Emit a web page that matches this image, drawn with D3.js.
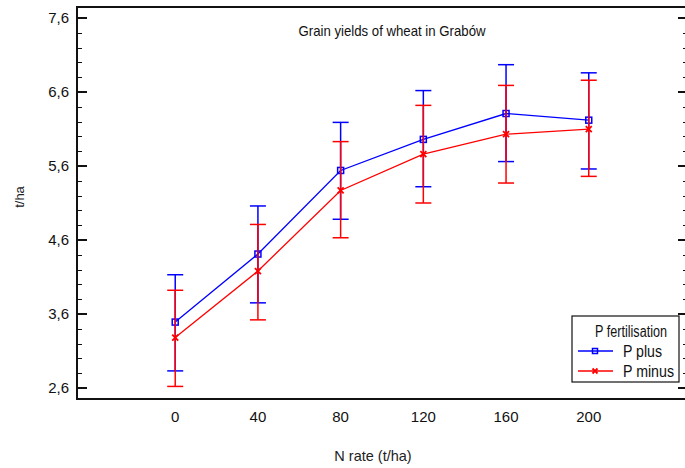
<!DOCTYPE html>
<html lang="en">
  <head>
    <meta charset="utf-8">
    <title>Grain yields of wheat in Grabów</title>
    <script src="https://d3js.org/d3.v7.min.js"></script>
    <style>
      body {
        margin: 0;
        background: #fff;
        font-family: "Liberation Sans", Arial, sans-serif;
      }
      .tick-label { font-size: 15px; fill: #111; }
    </style>
  </head>
  <body>
    <div id="chart"></div>
    <script>

    // data ****************************
    let nRates = [0, 40, 80, 120, 160, 200]

    // P plus (blue)
    let plusMean  = [3.49, 4.41, 5.54, 5.96, 6.31, 6.22]
    let plusLow   = [2.83, 3.75, 4.88, 5.32, 5.66, 5.56]
    let plusHigh  = [4.13, 5.06, 6.19, 6.62, 6.97, 6.86]

    // P minus (red)
    let minusMean = [3.28, 4.18, 5.27, 5.76, 6.03, 6.10]
    let minusLow  = [2.62, 3.52, 4.63, 5.10, 5.37, 5.46]
    let minusHigh = [3.92, 4.81, 5.93, 6.42, 6.69, 6.76]

    let yTicks = [2.6, 3.6, 4.6, 5.6, 6.6, 7.6]
    let seriesNames = ["P plus", "P minus"]

    // settings ****************************
    let width = 685, height = 468
    let mLeft = 77, mRight = 688, mTop = 7, mBottom = 399

    let x = d3.scaleLinear().domain([-47.5, 248]).range([mLeft, mRight])
    let y = d3.scaleLinear().domain([2.45, 7.75]).range([mBottom, mTop])

    let svg = d3.select("#chart").append("svg")
      .attr("width", width)
      .attr("height", height)

    // frame
    svg.append("rect")
      .attr("x", mLeft).attr("y", mTop)
      .attr("width", mRight - mLeft).attr("height", mBottom - mTop)
      .attr("fill", "none")
      .attr("stroke", "#111")
      .attr("stroke-width", 2)

    // y ticks, left (inward) and right (inward)
    let minor = d3.range(2.6, 7.61, 0.2)
    svg.selectAll(".minor-l").data(minor).join("line")
      .attr("x1", mLeft).attr("x2", mLeft + 5)
      .attr("y1", d => Math.round(y(d)) + 0.5).attr("y2", d => Math.round(y(d)) + 0.5)
      .attr("stroke", "#111")
    svg.selectAll(".minor-r").data(minor).join("line")
      .attr("x1", mRight - 5).attr("x2", mRight)
      .attr("y1", d => Math.round(y(d)) + 0.5).attr("y2", d => Math.round(y(d)) + 0.5)
      .attr("stroke", "#111")
    svg.selectAll(".major-l").data(yTicks).join("line")
      .attr("x1", mLeft).attr("x2", mLeft + 10)
      .attr("y1", d => Math.round(y(d))).attr("y2", d => Math.round(y(d)))
      .attr("stroke", "#111").attr("stroke-width", 2)
    svg.selectAll(".major-r").data(yTicks).join("line")
      .attr("x1", mRight - 10).attr("x2", mRight)
      .attr("y1", d => Math.round(y(d))).attr("y2", d => Math.round(y(d)))
      .attr("stroke", "#111").attr("stroke-width", 2)

    let fmt = d3.format(".1f")
    svg.selectAll(".ylab").data(yTicks).join("text")
      .attr("class", "tick-label")
      .attr("x", 69)
      .attr("y", d => y(d) + 5)
      .attr("text-anchor", "end")
      .text(d => fmt(d).replace(".", ","))

    svg.selectAll(".xlab").data(nRates).join("text")
      .attr("class", "tick-label")
      .attr("x", d => x(d))
      .attr("y", 422)
      .attr("text-anchor", "middle")
      .text(d => d)

    // axis titles
    svg.append("text")
      .attr("x", 373).attr("y", 461)
      .attr("text-anchor", "middle")
      .style("font-size", "14.5px").style("fill", "#222")
      .text("N rate (t/ha)")

    svg.append("text")
      .attr("transform", "translate(24,197) rotate(-90)")
      .attr("text-anchor", "middle")
      .style("font-size", "13px").style("fill", "#222")
      .text("t/ha")

    svg.append("text")
      .attr("x", 392).attr("y", 36)
      .attr("text-anchor", "middle")
      .attr("textLength", 187).attr("lengthAdjust", "spacingAndGlyphs")
      .style("font-size", "15px").style("fill", "#111")
      .text("Grain yields of wheat in Grabów")

    // series
    let series = [
      {name: seriesNames[0], color: "#0000ff", mean: plusMean, low: plusLow, high: plusHigh, marker: "square"},
      {name: seriesNames[1], color: "#ff0000", mean: minusMean, low: minusLow, high: minusHigh, marker: "cross"}
    ]

    let line = d3.line().x(d => x(d[0])).y(d => y(d[1]))

    function drawMarker(g, cx, cy, type, color, r) {
      if (type == "square") {
        g.append("rect")
          .attr("x", cx - r).attr("y", cy - r)
          .attr("width", 2 * r).attr("height", 2 * r)
          .attr("fill", "none").attr("stroke", color).attr("stroke-width", 1.5)
      } else {
        g.append("path")
          .attr("d", `M${cx-r},${cy-r}L${cx+r},${cy+r}M${cx-r},${cy+r}L${cx+r},${cy-r}`)
          .attr("stroke", color).attr("stroke-width", 1.8)
      }
    }

    series.forEach(s => {
      let g = svg.append("g")
      let pts = nRates.map((n, i) => [n, s.mean[i]])
      g.append("path")
        .attr("d", line(pts))
        .attr("fill", "none")
        .attr("stroke", s.color)
        .attr("stroke-width", 1.3)

      nRates.forEach((n, i) => {
        let cx = x(n)
        g.append("line")
          .attr("x1", cx).attr("x2", cx)
          .attr("y1", y(s.low[i])).attr("y2", y(s.high[i]))
          .attr("stroke", s.color).attr("stroke-width", 1.5)
        ;[s.low[i], s.high[i]].forEach(v => {
          g.append("line")
            .attr("x1", cx - 8).attr("x2", cx + 8)
            .attr("y1", y(v)).attr("y2", y(v))
            .attr("stroke", s.color).attr("stroke-width", 1.5)
        })
        drawMarker(g, cx, y(s.mean[i]), s.marker, s.color, 3)
      })
    })

    // legend
    let lg = svg.append("g")
    lg.append("rect")
      .attr("x", 572).attr("y", 316)
      .attr("width", 107).attr("height", 66)
      .attr("fill", "#fff").attr("stroke", "#111").attr("stroke-width", 1.2)
    lg.append("text")
      .attr("x", 595).attr("y", 337)
      .attr("textLength", 72).attr("lengthAdjust", "spacingAndGlyphs")
      .style("font-size", "16px").style("fill", "#111")
      .text("P fertilisation")
    series.forEach((s, i) => {
      let ly = 351 + i * 20
      lg.append("line")
        .attr("x1", 578).attr("x2", 613)
        .attr("y1", ly).attr("y2", ly)
        .attr("stroke", s.color).attr("stroke-width", 1.3)
      drawMarker(lg, 595, ly, s.marker, s.color, 2.5)
      lg.append("text")
        .attr("x", 623).attr("y", ly + 6)
        .attr("textLength", i == 0 ? 39 : 51).attr("lengthAdjust", "spacingAndGlyphs")
        .style("font-size", "16px").style("fill", "#111")
        .text(s.name)
    })

    </script>
  </body>
</html>
